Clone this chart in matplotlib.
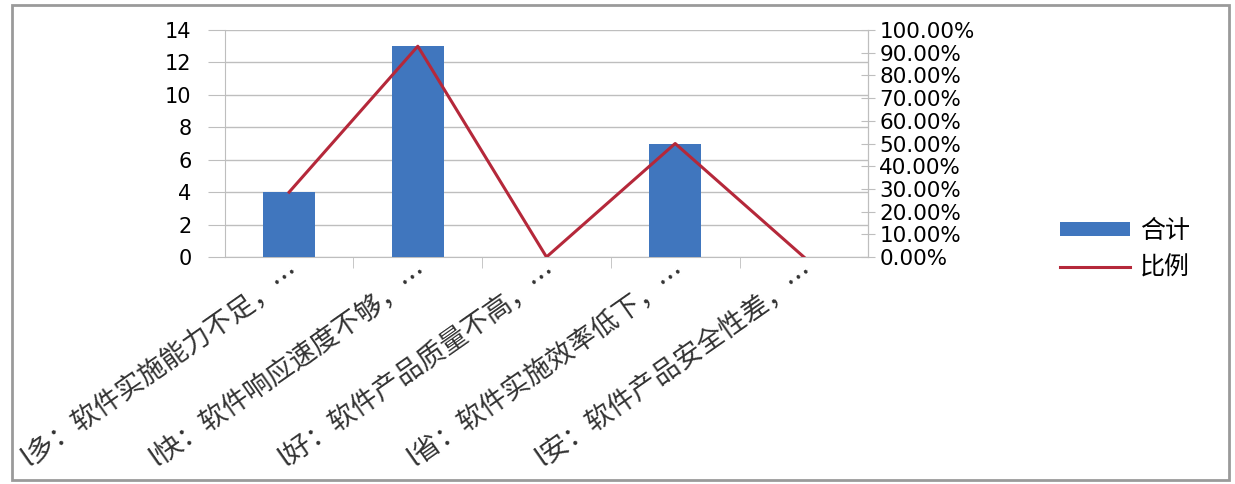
import matplotlib
matplotlib.use("Agg")
import matplotlib.pyplot as plt
from matplotlib.patches import Rectangle
from matplotlib.ticker import MultipleLocator, FuncFormatter

plt.rcParams['font.family'] = ['Noto Sans CJK SC', 'DejaVu Sans']

# data
categories = ["l多：软件实施能力不足，…", "l快：软件响应速度不够，…", "l好：软件产品质量不高，…",
              "l省：软件实施效率低下，…", "l安：软件产品安全性差，…"]
totals = [4, 13, 0, 7, 0]
ratios = [0.2857, 0.9286, 0.0, 0.50, 0.0]

bar_color = '#4076BE'
line_color = '#B5283A'
grid_color = '#BEBEBE'

fig = plt.figure(figsize=(12.35, 4.84), dpi=100)
fig.patch.set_facecolor('white')
fig.patches.append(Rectangle((12 / 1235, 4 / 484), 1217 / 1235, 475 / 484, transform=fig.transFigure,
                             fill=False, edgecolor='#9A9A9A', linewidth=2))

ax = fig.add_axes([0.182, 0.469, 0.521, 0.469])
x = list(range(len(categories)))
bars = ax.bar(x, totals, width=0.4, color=bar_color, zorder=3, label='合计')
ax.set_xlim(-0.5, len(categories) - 0.5)
ax.set_ylim(0, 14)
ax.yaxis.set_major_locator(MultipleLocator(2))
ax.grid(axis='y', color=grid_color, linewidth=1, zorder=0)
ax.spines['top'].set_visible(False)
for s in ['left', 'bottom', 'right']:
    ax.spines[s].set_color(grid_color)
ax.tick_params(axis='y', length=12, color=grid_color, pad=12)
for lab in ax.get_yticklabels():
    lab.set_fontfamily('DejaVu Sans')
    lab.set_fontsize(15)
ax.set_xticks(x)
ax.set_xticklabels(categories, rotation=35, ha='right', rotation_mode='anchor', fontsize=19.5,
                   color='#333333')
ax.tick_params(axis='x', length=0, pad=1)
ax.set_xticks([i + 0.5 for i in x[:-1]], minor=True)
ax.tick_params(axis='x', which='minor', length=8, color=grid_color)

ax2 = ax.twinx()
line, = ax2.plot(x, ratios, color=line_color, linewidth=2.2, zorder=4, label='比例')
ax2.set_ylim(0, 1.0)
ax2.yaxis.set_major_locator(MultipleLocator(0.1))
ax2.yaxis.set_major_formatter(FuncFormatter(lambda v, p: f"{v * 100:.2f}%"))
ax2.tick_params(axis='y', length=10, color=grid_color, pad=3, direction='inout')
for lab in ax2.get_yticklabels():
    lab.set_fontfamily('DejaVu Sans')
    lab.set_fontsize(15.5)
for s in ['top', 'left', 'bottom']:
    ax2.spines[s].set_visible(False)
ax2.spines['right'].set_color(grid_color)

fig.legend([bars, line], ['合计', '比例'], loc='center left', bbox_to_anchor=(0.84, 0.485),
           frameon=False, fontsize=18, handlelength=2.8, handleheight=0.5, labelspacing=0.45,
           handletextpad=0.4)

fig.savefig('out.png', dpi=100)
